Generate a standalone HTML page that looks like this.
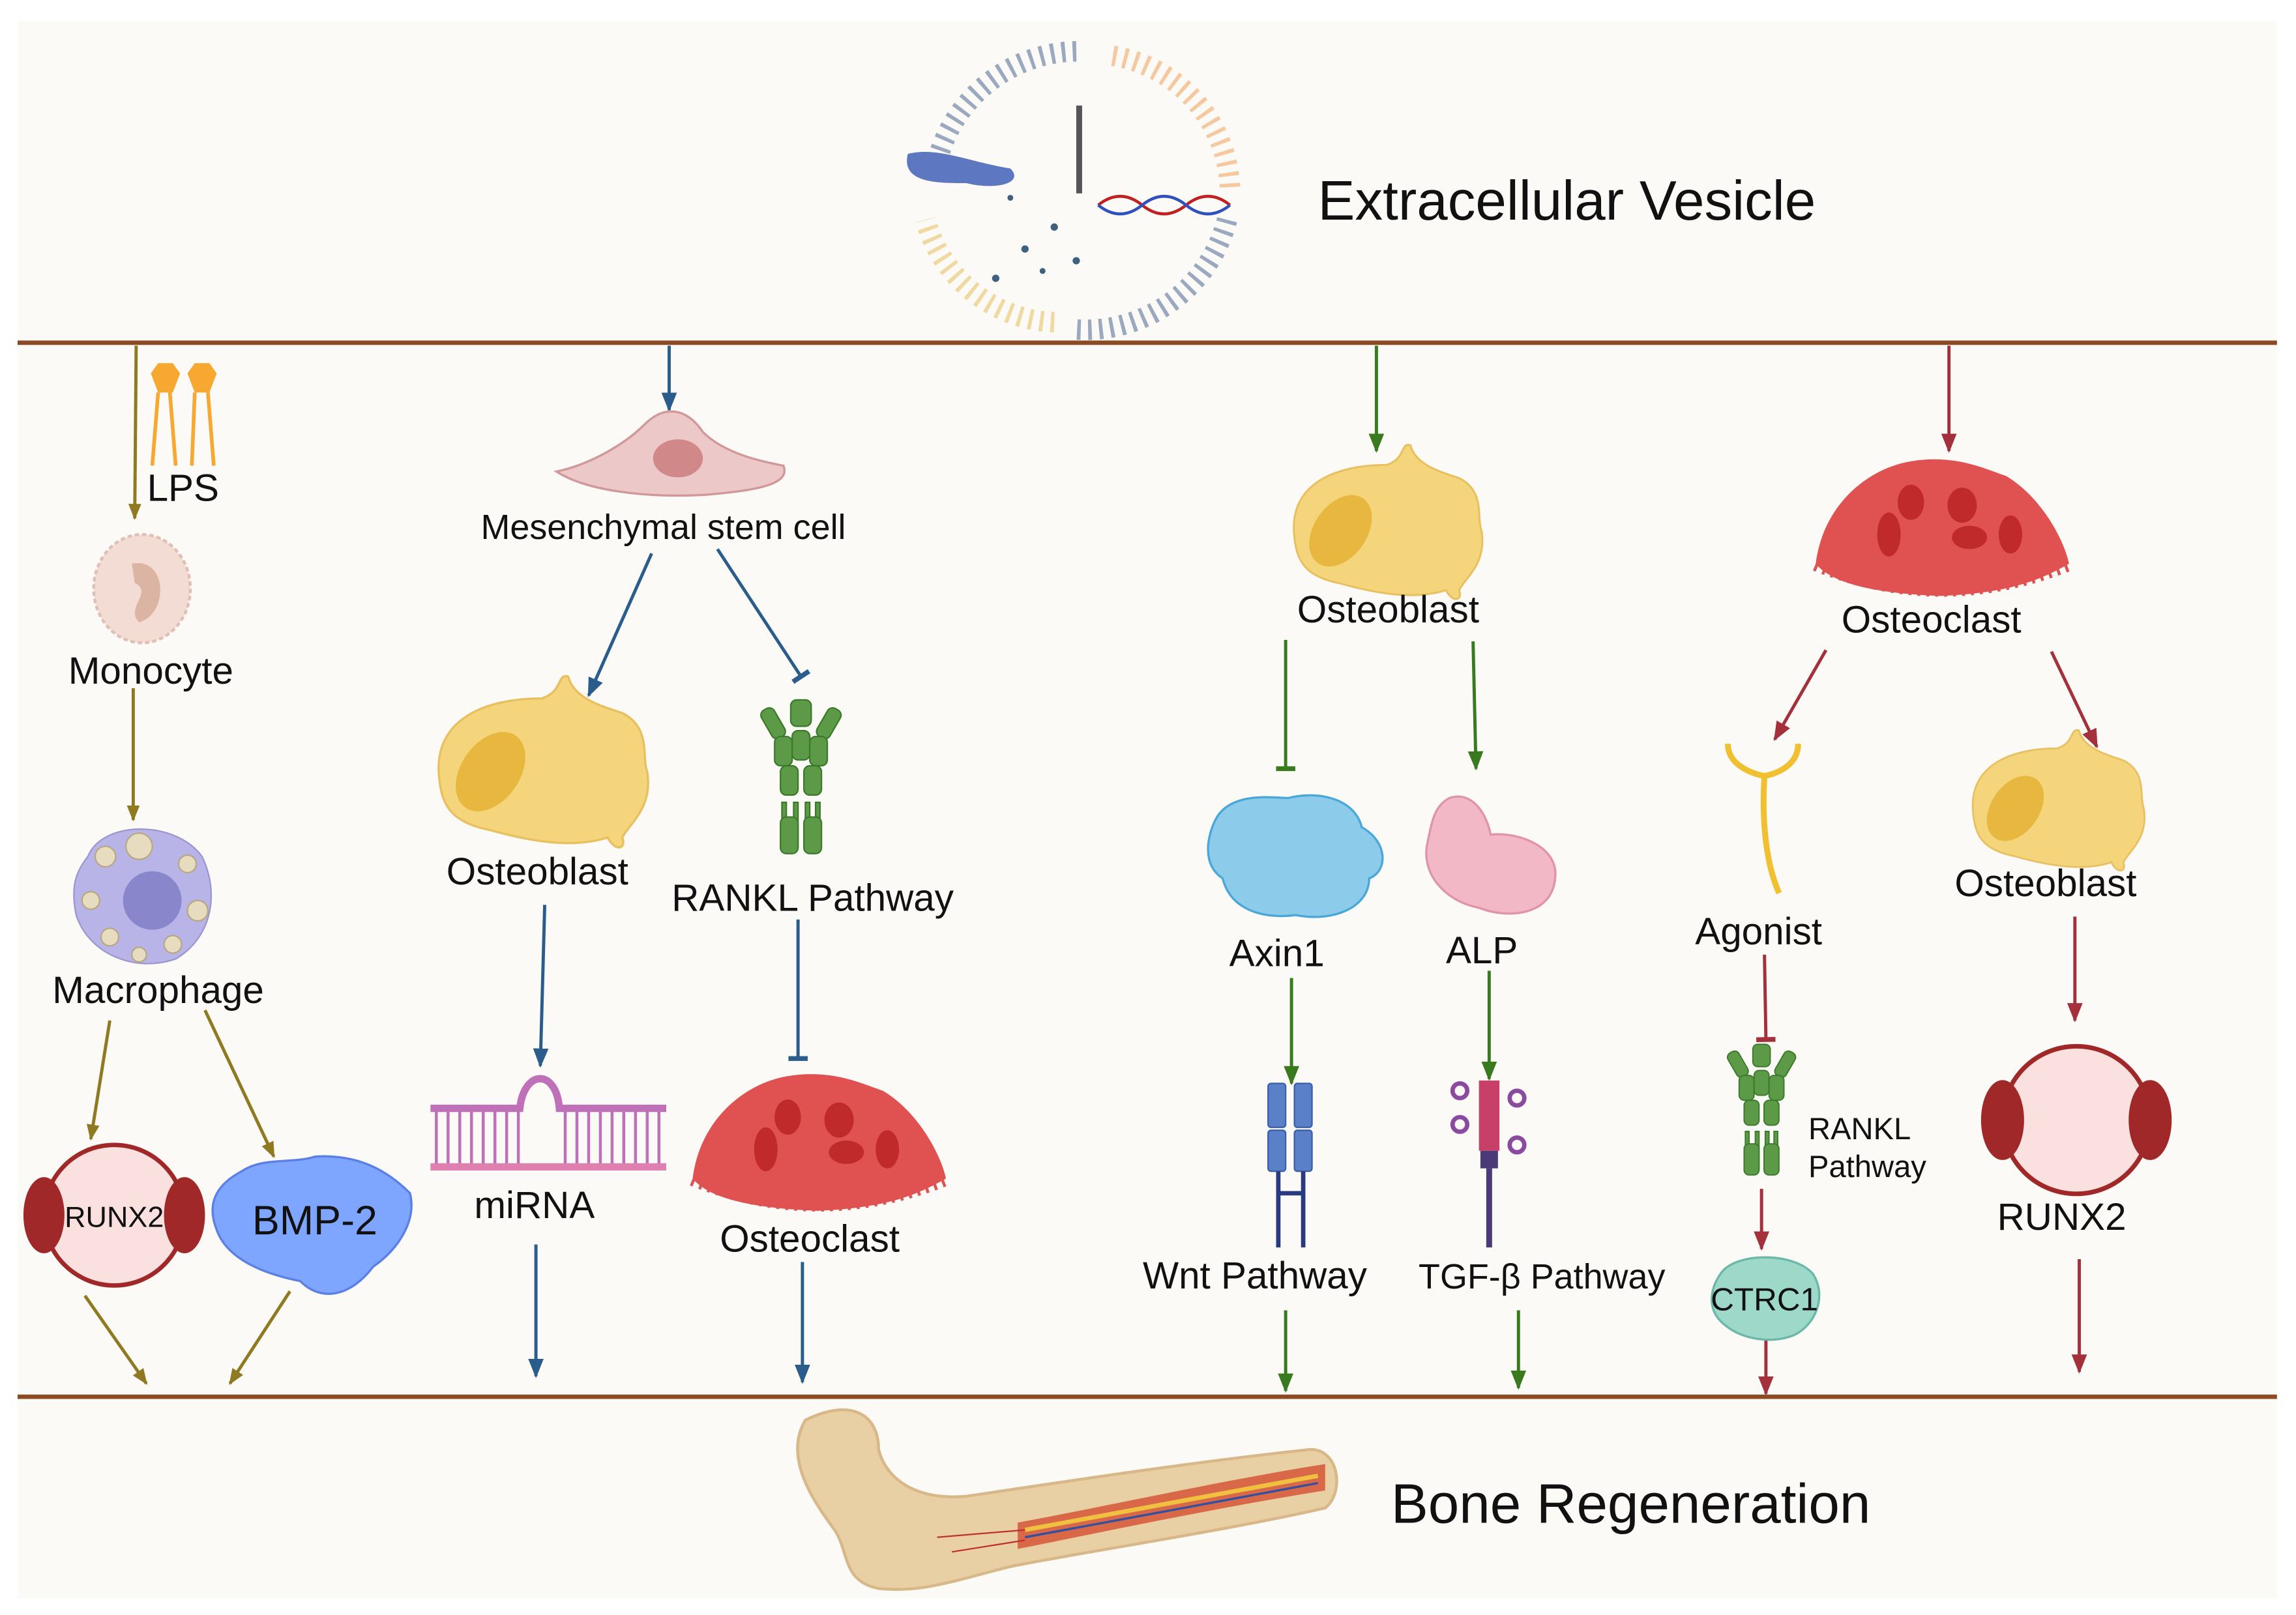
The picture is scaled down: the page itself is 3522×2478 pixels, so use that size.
<!DOCTYPE html>
<html><head><meta charset="utf-8"><style>
html,body{margin:0;padding:0;background:#fff;}
svg{display:block;}
text{font-family:"Liberation Sans",sans-serif;fill:#111;}
</style></head><body>
<svg width="3522" height="2478" viewBox="0 0 1568 1103" xmlns="http://www.w3.org/2000/svg">
<defs>
<marker id="ao" viewBox="0 0 10 10" refX="9" refY="5" markerWidth="5" markerHeight="5" orient="auto"><path d="M0,1 L10,5 L0,9 Z" fill="#8f7a22"/></marker>
<marker id="ab" viewBox="0 0 10 10" refX="9" refY="5" markerWidth="6" markerHeight="6" orient="auto"><path d="M0,1 L10,5 L0,9 Z" fill="#2a5d8c"/></marker>
<marker id="ag" viewBox="0 0 10 10" refX="9" refY="5" markerWidth="6" markerHeight="6" orient="auto"><path d="M0,1 L10,5 L0,9 Z" fill="#3a7a1f"/></marker>
<marker id="ar" viewBox="0 0 10 10" refX="9" refY="5" markerWidth="6" markerHeight="6" orient="auto"><path d="M0,1 L10,5 L0,9 Z" fill="#a3303a"/></marker>
<marker id="tb" viewBox="0 0 10 10" refX="5" refY="5" markerWidth="6" markerHeight="6" orient="auto"><path d="M5,0 L5,10" stroke="#2a5d8c" stroke-width="2.5"/></marker>
<marker id="tg" viewBox="0 0 10 10" refX="5" refY="5" markerWidth="6" markerHeight="6" orient="auto"><path d="M5,0 L5,10" stroke="#3a7a1f" stroke-width="2.5"/></marker>
<marker id="tr" viewBox="0 0 10 10" refX="5" refY="5" markerWidth="6" markerHeight="6" orient="auto"><path d="M5,0 L5,10" stroke="#a3303a" stroke-width="2.5"/></marker>
<g id="ob">
<path d="M-70,10 C-75,-30 -40,-45 0,-45 C15,-50 10,-62 18,-60 C22,-45 40,-40 55,-35 C75,-25 68,-5 72,5 C76,30 60,40 55,50 C58,58 50,60 45,50 C20,58 -10,52 -35,45 C-60,40 -68,30 -70,10 Z" fill="#f4d57c" stroke="#e8c060" stroke-width="1.5"/>
<ellipse cx="-35" cy="5" rx="20" ry="30" transform="rotate(35 -35 5)" fill="#e8b740"/>
</g>
<g id="oc">
<path d="M-85,20 C-80,-20 -50,-45 -20,-50 C10,-55 30,-45 45,-40 C70,-25 85,5 88,20 C70,30 50,40 0,42 C-50,40 -75,32 -85,20 Z" fill="#e05252"/>
<path d="M-85,20 Q0,55 88,20" fill="none" stroke="#e05252" stroke-width="10" stroke-dasharray="2 4"/>
<ellipse cx="-35" cy="0" rx="8" ry="15" fill="#c02a2a"/><ellipse cx="-20" cy="-22" rx="9" ry="12" fill="#c02a2a"/>
<ellipse cx="15" cy="-20" rx="10" ry="12" fill="#c02a2a"/><ellipse cx="20" cy="2" rx="12" ry="8" fill="#c02a2a"/><ellipse cx="48" cy="0" rx="8" ry="13" fill="#c02a2a"/>
</g>
<g id="rk" fill="#5c9a48" stroke="#3a7a2a" stroke-width="1">
<rect x="-7" y="-55" width="14" height="18" rx="4"/>
<rect x="-24" y="-50" width="10" height="22" rx="4" transform="rotate(-30 -19 -39)"/><rect x="14" y="-50" width="10" height="22" rx="4" transform="rotate(30 19 -39)"/>
<rect x="-18" y="-30" width="12" height="20" rx="4"/><rect x="-6" y="-34" width="12" height="20" rx="4"/><rect x="6" y="-30" width="12" height="20" rx="4"/>
<rect x="-14" y="-10" width="12" height="20" rx="4"/><rect x="2" y="-10" width="12" height="20" rx="4"/>
<rect x="-13" y="15" width="3" height="30"/><rect x="-5" y="15" width="3" height="30"/><rect x="3" y="15" width="3" height="30"/><rect x="10" y="15" width="3" height="30"/>
<rect x="-14" y="25" width="12" height="25" rx="4"/><rect x="2" y="25" width="12" height="25" rx="4"/>
</g>
<g id="rx">
<circle cx="0" cy="0" r="48" fill="#fbe0e0" stroke="#a02828" stroke-width="3"/>
<ellipse cx="-48" cy="0" rx="14" ry="26" fill="#a02828"/><ellipse cx="48" cy="0" rx="14" ry="26" fill="#a02828"/>
</g>
</defs>
<rect x="0" y="0" width="1568" height="1103" fill="#fff"/>
<rect x="12" y="14" width="1543" height="1078" fill="#fbfaf6"/>
<!-- vesicle -->
<g fill="none" stroke-width="14" stroke-dasharray="2.5 5">
<path d="M640,110 A100,100 0 0 1 740,35" stroke="#9aa8c0"/>
<path d="M760,38 A95,95 0 0 1 840,130" stroke="#f5c9a0"/>
<path d="M838,150 A100,100 0 0 1 735,225" stroke="#9aa8c0"/>
<path d="M720,220 A95,95 0 0 1 632,150" stroke="#f0d9a0"/>
</g>
<path d="M620,105 C640,100 660,110 690,115 C700,125 680,130 660,125 C640,125 615,125 620,105 Z" fill="#5d78c0"/>
<rect x="735" y="72" width="4" height="60" fill="#555"/>
<path d="M750,140 Q765,128 780,140 T810,140 T840,140" fill="none" stroke="#c02020" stroke-width="2"/>
<path d="M750,140 Q765,152 780,140 T810,140 T840,140" fill="none" stroke="#3050c0" stroke-width="2"/>
<g fill="#406080"><circle cx="690" cy="135" r="2"/><circle cx="720" cy="155" r="2.5"/><circle cx="700" cy="170" r="2.5"/><circle cx="735" cy="178" r="2.5"/><circle cx="680" cy="190" r="2.5"/><circle cx="712" cy="185" r="2"/></g>
<text x="900" y="150" font-size="38">Extracellular Vesicle</text>
<line x1="12" y1="234" x2="1555" y2="234" stroke="#8b4a22" stroke-width="3"/>
<line x1="12" y1="954" x2="1555" y2="954" stroke="#8b4a22" stroke-width="3"/>
<g stroke-width="2.2" fill="none">
<line x1="93" y1="236" x2="92" y2="354" stroke="#8f7a22" marker-end="url(#ao)"/>
<line x1="457" y1="236" x2="457" y2="280" stroke="#2a5d8c" marker-end="url(#ab)"/>
<line x1="940" y1="236" x2="940" y2="308" stroke="#3a7a1f" marker-end="url(#ag)"/>
<line x1="1331" y1="236" x2="1331" y2="308" stroke="#a3303a" marker-end="url(#ar)"/>
<line x1="91" y1="470" x2="91" y2="560" stroke="#8f7a22" marker-end="url(#ao)"/>
<line x1="75" y1="697" x2="62" y2="778" stroke="#8f7a22" marker-end="url(#ao)"/>
<line x1="140" y1="690" x2="187" y2="790" stroke="#8f7a22" marker-end="url(#ao)"/>
<line x1="58" y1="885" x2="100" y2="945" stroke="#8f7a22" marker-end="url(#ao)"/>
<line x1="198" y1="882" x2="157" y2="945" stroke="#8f7a22" marker-end="url(#ao)"/>
<line x1="445" y1="378" x2="402" y2="475" stroke="#2a5d8c" marker-end="url(#ab)"/>
<line x1="490" y1="375" x2="547" y2="462" stroke="#2a5d8c" marker-end="url(#tb)"/>
<line x1="372" y1="618" x2="369" y2="728" stroke="#2a5d8c" marker-end="url(#ab)"/>
<line x1="545" y1="628" x2="545" y2="723" stroke="#2a5d8c" marker-end="url(#tb)"/>
<line x1="366" y1="850" x2="366" y2="940" stroke="#2a5d8c" marker-end="url(#ab)"/>
<line x1="548" y1="862" x2="548" y2="944" stroke="#2a5d8c" marker-end="url(#ab)"/>
<line x1="878" y1="437" x2="878" y2="525" stroke="#3a7a1f" marker-end="url(#tg)"/>
<line x1="1006" y1="438" x2="1008" y2="525" stroke="#3a7a1f" marker-end="url(#ag)"/>
<line x1="882" y1="668" x2="882" y2="740" stroke="#3a7a1f" marker-end="url(#ag)"/>
<line x1="1017" y1="663" x2="1017" y2="737" stroke="#3a7a1f" marker-end="url(#ag)"/>
<line x1="878" y1="895" x2="878" y2="950" stroke="#3a7a1f" marker-end="url(#ag)"/>
<line x1="1037" y1="895" x2="1037" y2="948" stroke="#3a7a1f" marker-end="url(#ag)"/>
<line x1="1247" y1="444" x2="1212" y2="505" stroke="#a3303a" marker-end="url(#ar)"/>
<line x1="1401" y1="445" x2="1432" y2="510" stroke="#a3303a" marker-end="url(#ar)"/>
<line x1="1205" y1="652" x2="1206" y2="710" stroke="#a3303a" marker-end="url(#tr)"/>
<line x1="1417" y1="626" x2="1417" y2="697" stroke="#a3303a" marker-end="url(#ar)"/>
<line x1="1203" y1="812" x2="1203" y2="853" stroke="#a3303a" marker-end="url(#ar)"/>
<line x1="1206" y1="912" x2="1206" y2="952" stroke="#a3303a" marker-end="url(#ar)"/>
<line x1="1420" y1="860" x2="1420" y2="937" stroke="#a3303a" marker-end="url(#ar)"/>
</g>
<g fill="#f6a830"><polygon points="103,255 108,248 118,248 123,255 118,268 108,268"/><polygon points="128,255 133,248 143,248 148,255 143,268 133,268"/></g>
<g stroke="#f6a830" stroke-width="2.5"><line x1="108" y1="268" x2="104" y2="318"/><line x1="116" y1="268" x2="120" y2="318"/><line x1="133" y1="268" x2="131" y2="318"/><line x1="142" y1="268" x2="146" y2="318"/></g>
<text x="125" y="342" font-size="26" text-anchor="middle">LPS</text>
<ellipse cx="97" cy="402" rx="33" ry="37" fill="#f3dcd4" stroke="#e0c0b4" stroke-width="2" stroke-dasharray="3 2"/>
<path d="M90,385 C115,380 115,420 95,425 C85,415 105,405 92,398 Z" fill="#dcb4a4"/>
<text x="103" y="467" font-size="26" text-anchor="middle">Monocyte</text>
<path d="M60,585 C70,560 120,560 138,585 C150,610 145,640 120,655 C90,665 60,650 52,625 C48,605 52,595 60,585 Z" fill="#b8b4e8" stroke="#9a96d0"/>
<circle cx="104" cy="615" r="20" fill="#8a86cc"/>
<g fill="#e8dcc0" stroke="#b8a880"><circle cx="72" cy="585" r="7"/><circle cx="95" cy="578" r="9"/><circle cx="128" cy="590" r="6"/><circle cx="62" cy="615" r="6"/><circle cx="135" cy="622" r="7"/><circle cx="75" cy="640" r="6"/><circle cx="118" cy="645" r="6"/><circle cx="95" cy="652" r="5"/></g>
<text x="108" y="685" font-size="26" text-anchor="middle">Macrophage</text>
<use href="#rx" x="78" y="830"/>
<text x="78" y="838" font-size="20" text-anchor="middle">RUNX2</text>
<path d="M165,800 C180,790 200,795 215,790 C245,788 265,800 280,815 C285,835 270,855 255,865 C240,885 220,890 205,875 C180,870 155,860 148,840 C140,820 150,808 165,800 Z" fill="#7fa6ff" stroke="#5a80e8" stroke-width="1.5"/>
<text x="215" y="843" font-size="28" text-anchor="middle">BMP-2</text>
<path d="M380,322 C400,318 425,305 440,290 C455,275 470,280 480,295 C495,310 520,315 535,318 C540,330 520,335 480,338 C440,340 400,335 380,322 Z" fill="#ecc8c8" stroke="#d09898" stroke-width="1.5"/>
<ellipse cx="463" cy="313" rx="17" ry="13" fill="#d08888"/>
<text x="453" y="368" font-size="24" text-anchor="middle">Mesenchymal stem cell</text>
<use href="#ob" x="370" y="522"/>
<text x="367" y="604" font-size="26" text-anchor="middle">Osteoblast</text>
<use href="#rk" x="547" y="533"/>
<text x="555" y="622" font-size="26" text-anchor="middle">RANKL Pathway</text>
<g stroke="#c070b8" stroke-width="2"><path d="M294,757 H355 C358,730 380,730 382,757 H455" fill="none" stroke-width="5"/>
<path d="M298,757 V795 M306,757 V795 M314,757 V795 M322,757 V795 M330,757 V795 M338,757 V795 M346,757 V795 M354,757 V795 M386,757 V795 M394,757 V795 M402,757 V795 M410,757 V795 M418,757 V795 M426,757 V795 M434,757 V795 M442,757 V795 M450,757 V795"/>
<path d="M294,797 H455" stroke="#e080b0" stroke-width="5"/></g>
<text x="365" y="832" font-size="26" text-anchor="middle">miRNA</text>
<use href="#oc" x="558" y="785"/>
<text x="553" y="855" font-size="26" text-anchor="middle">Osteoclast</text>
<g transform="translate(947,358) scale(0.9)"><use href="#ob"/></g>
<text x="948" y="425" font-size="26" text-anchor="middle">Osteoblast</text>
<path d="M830,560 C840,540 870,545 880,545 C900,540 925,545 930,565 C948,575 948,595 935,600 C935,620 910,630 885,625 C860,628 840,620 835,600 C820,590 825,570 830,560 Z" fill="#8ccbea" stroke="#4aa8d8" stroke-width="1.5"/>
<path d="M990,545 C1005,540 1015,555 1018,570 C1040,568 1065,580 1062,600 C1060,625 1030,628 1010,620 C985,615 970,595 975,575 C978,560 980,550 990,545 Z" fill="#f2b8c6" stroke="#e094a8" stroke-width="1.5"/>
<text x="872" y="660" font-size="26" text-anchor="middle">Axin1</text>
<text x="1012" y="658" font-size="26" text-anchor="middle">ALP</text>
<g fill="#5a80c8" stroke="#3a5ea8"><rect x="866" y="740" width="12" height="30" rx="2"/><rect x="884" y="740" width="12" height="30" rx="2"/><rect x="866" y="772" width="12" height="28" rx="2"/><rect x="884" y="772" width="12" height="28" rx="2"/></g>
<g stroke="#2a3a80" stroke-width="3"><line x1="873" y1="800" x2="873" y2="852"/><line x1="890" y1="800" x2="890" y2="852"/><line x1="873" y1="815" x2="890" y2="815"/></g>
<rect x="1010" y="738" width="14" height="48" fill="#c84068"/>
<rect x="1011" y="786" width="12" height="12" fill="#4a3a78"/>
<line x1="1017" y1="798" x2="1017" y2="852" stroke="#4a3a78" stroke-width="4"/>
<g fill="none" stroke="#8a4aa0" stroke-width="3"><circle cx="997" cy="745" r="5"/><circle cx="1036" cy="750" r="5"/><circle cx="997" cy="768" r="5"/><circle cx="1036" cy="782" r="5"/></g>
<text x="857" y="880" font-size="26" text-anchor="middle">Wnt Pathway</text>
<text x="1053" y="880" font-size="24" text-anchor="middle">TGF-β Pathway</text>
<use href="#oc" x="1325" y="365"/>
<text x="1319" y="432" font-size="26" text-anchor="middle">Osteoclast</text>
<path d="M1180,508 C1180,522 1195,528 1205,530 C1215,528 1228,522 1228,508" fill="none" stroke="#f0c030" stroke-width="4"/>
<path d="M1205,530 C1203,560 1206,590 1215,610" fill="none" stroke="#f0c030" stroke-width="4"/>
<text x="1201" y="645" font-size="26" text-anchor="middle">Agonist</text>
<g transform="translate(1405,548) scale(0.82)"><use href="#ob"/></g>
<text x="1397" y="612" font-size="26" text-anchor="middle">Osteoblast</text>
<g transform="translate(1203,760) scale(0.85)"><use href="#rk"/></g>
<text x="1235" y="778" font-size="21">RANKL</text>
<text x="1235" y="804" font-size="21">Pathway</text>
<path d="M1175,870 C1185,855 1225,855 1238,870 C1248,885 1240,905 1225,912 C1210,918 1190,915 1178,905 C1165,895 1168,880 1175,870 Z" fill="#9ed8c8" stroke="#6ab8a8" stroke-width="1.5"/>
<text x="1205" y="895" font-size="22" text-anchor="middle">CTRC1</text>
<g transform="translate(1418,765) scale(1.05)"><use href="#rx"/></g>
<text x="1408" y="840" font-size="26" text-anchor="middle">RUNX2</text>
<path d="M550,970 C580,955 600,965 600,990 C605,1010 625,1025 660,1022 C740,1010 820,998 895,990 C915,990 918,1020 905,1030 C840,1045 740,1060 690,1070 C650,1080 630,1088 600,1085 C575,1080 580,1060 570,1045 C555,1025 535,995 550,970 Z" fill="#e8cfa4" stroke="#d8b888" stroke-width="2"/>
<path d="M695,1040 C760,1028 830,1012 905,1000 L905,1018 C830,1030 760,1045 695,1058 Z" fill="#d86848"/>
<path d="M700,1045 L900,1008" stroke="#f0c040" stroke-width="3"/>
<path d="M700,1050 L900,1013" stroke="#3050a0" stroke-width="1.5"/>
<path d="M640,1050 L700,1045 M650,1060 L700,1052" stroke="#c03030" stroke-width="1"/>
<text x="950" y="1040" font-size="38">Bone Regeneration</text>
</svg>
</body></html>
